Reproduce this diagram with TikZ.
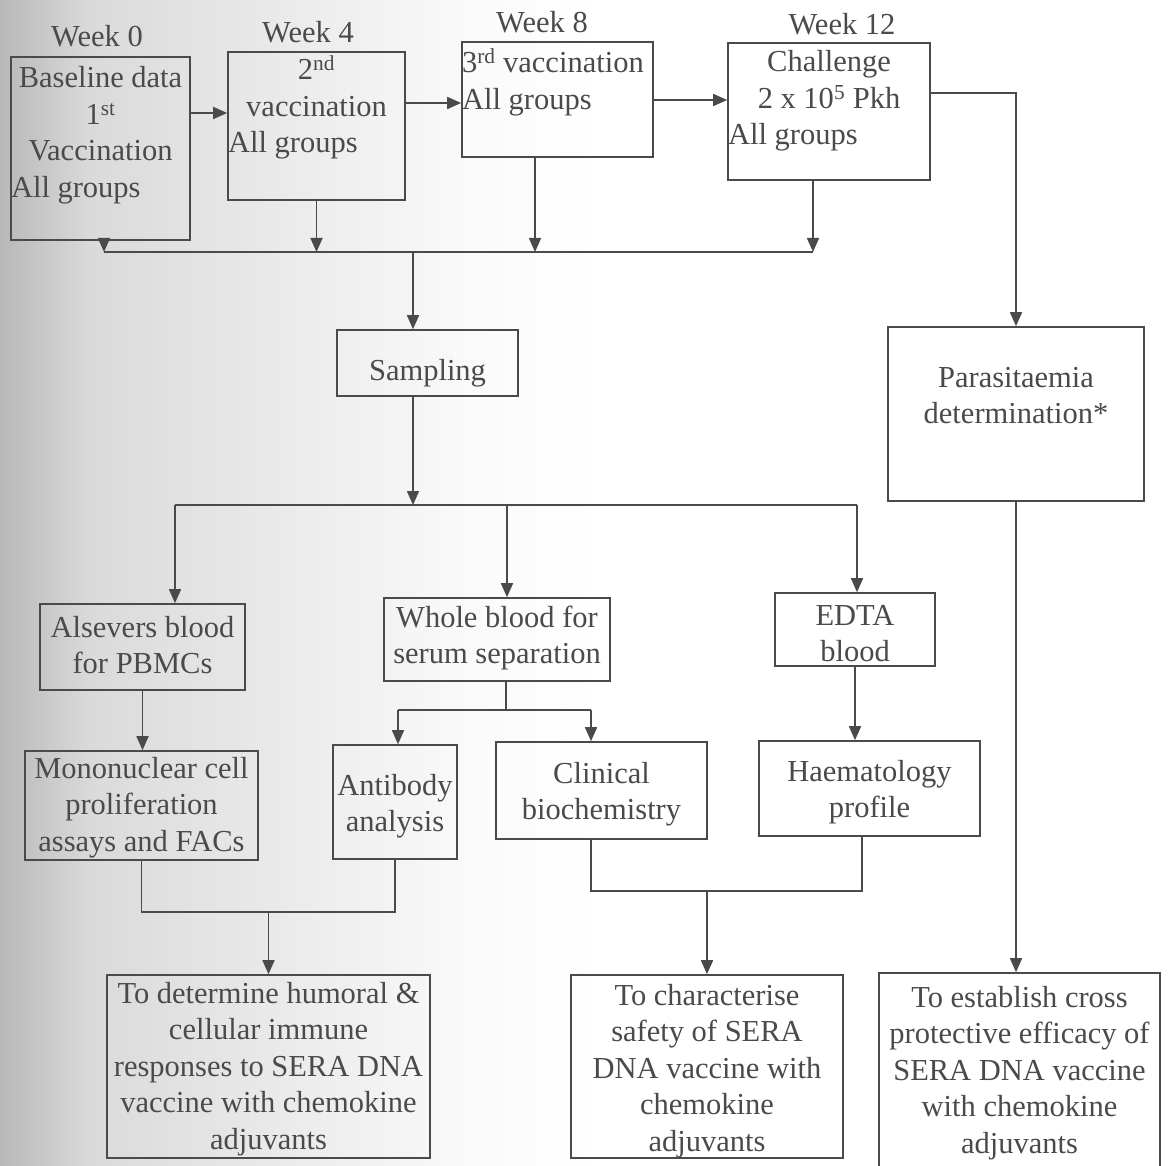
\documentclass[tikz,border=0pt]{standalone}
\usepackage{fontspec}
\setmainfont{Liberation Serif}
\usetikzlibrary{arrows.meta}
\definecolor{ink}{HTML}{4A4A4A}
\definecolor{gA}{RGB}{184,184,184}
\definecolor{gB}{RGB}{218,218,218}
\definecolor{gC}{RGB}{250,250,250}
% width, height, first baseline, content
\newcommand{\bxt}[4]{\parbox[c][#2pt][t]{#1pt}{\rule{0pt}{#3pt}#4}}
\begin{document}
\begin{tikzpicture}[x=1pt,y=-1pt,
  every node/.style={font=\fontsize{30.5}{36.5}\selectfont, text=ink},
  box/.style={draw=ink, line width=1.6pt, inner sep=0pt},
  wk/.style={inner sep=0pt, anchor=base},
  conn/.style={draw=ink, line width=1.6pt},
  arr/.style={conn, -{Triangle[length=14pt,width=12pt]}}]
\clip (0,0) rectangle (1170,1166);
\fill[white] (0,0) rectangle (1170,1166);
\shade[left color=gA, right color=gB] (0,0) rectangle (90,1166);
\shade[left color=gB, right color=gC] (90,0) rectangle (470,1166);
\shade[left color=gC, right color=white] (470,0) rectangle (600,1166);

% week labels
\node[wk] (w0) at (97,47) {Week 0};
\node[wk] (w4) at (308,43) {Week 4};
\node[wk] (w8) at (542,33) {Week 8};
\node[wk] (w12) at (842,35) {Week 12};

% top row
\node[box] (b1) at (100.5,148.5) {\bxt{179}{183}{31}{\centering Baseline data\\ 1\textsuperscript{st}\\ Vaccination\par\raggedright All groups}};
\node[box] (b2) at (316.5,126) {\bxt{177}{148}{28}{\centering 2\textsuperscript{nd}\\ vaccination\par\raggedright All groups}};
\node[box] (b3) at (557.5,99.5) {\bxt{191}{115}{31}{\raggedright 3\textsuperscript{rd} vaccination\\ All groups}};
\node[box] (b4) at (829,111.5) {\bxt{202}{137}{29}{\centering Challenge\\ 2 x 10\textsuperscript{5} Pkh\par\raggedright All groups}};

\node[box] (samp) at (427.5,363) {\bxt{181}{66}{50}{\centering Sampling}};
\node[box] (par) at (1016,414) {\bxt{256}{174}{60}{\centering Parasitaemia\\ determination*}};

\node[box] (als) at (142.5,647) {\bxt{205}{86}{33}{\centering Alsevers blood\\ for PBMCs}};
\node[box] (whole) at (497,639.5) {\bxt{226}{83}{29}{\centering Whole blood for\\ serum separation}};
\node[box] (edta) at (855,629.5) {\bxt{160}{73}{32}{\centering EDTA\\ blood}};

\node[box] (mono) at (141.5,805.5) {\bxt{233}{109}{27}{\centering Mononuclear cell\\ proliferation\\ assays and FACs}};
\node[box] (anti) at (395,802) {\bxt{124}{114}{50}{\centering Antibody\\ analysis}};
\node[box] (clin) at (601.5,790.5) {\bxt{211}{97}{41}{\centering Clinical\\ biochemistry}};
\node[box] (haem) at (869.5,788.5) {\bxt{221}{95}{40}{\centering Haematology\\ profile}};

\node[box] (det) at (268.5,1066.5) {\bxt{323}{183}{28}{\centering To determine humoral \&\\ cellular immune\\ responses to SERA DNA\\ vaccine with chemokine\\ adjuvants}};
\node[box] (char) at (707,1066.5) {\bxt{272}{183}{30}{\centering To characterise\\ safety of SERA\\ DNA vaccine with\\ chemokine\\ adjuvants}};
\node[box] (est) at (1019.5,1074) {\bxt{281}{202}{34}{\centering To establish cross\\ protective efficacy of\\ SERA DNA vaccine\\ with chemokine\\ adjuvants}};

% horizontal arrows top row
\draw[arr] (b1.east |- 0,113) -- (b2.west |- 0,113);
\draw[arr] (b2.east |- 0,103) -- (b3.west |- 0,103);
\draw[arr] (b3.east |- 0,100) -- (b4.west |- 0,100);
\draw[arr] (b4.east |- 0,93) -| (par.north);

% first bus
\coordinate (busL) at (104,252);
\coordinate (busR) at (813,252);
\coordinate (t3) at (535,252);
\coordinate (s1) at (413,252);
\draw[conn] (busL) -- (busR);
\draw[arr] (b1.south -| busL) -- (busL);
\draw[arr] (b2.south) -- (b2.south |- busL);
\draw[arr] (b3.south -| t3) -- (t3);
\draw[arr] (b4.south -| busR) -- (busR);
\draw[arr] (s1) -- (s1 |- samp.north);

% second bus
\coordinate (s2) at (413,505);
\coordinate (bus2L) at (175,505);
\coordinate (bus2R) at (857,505);
\coordinate (t5) at (507,505);
\draw[arr] (s1 |- samp.south) -- (s2);
\draw[conn] (bus2L) -- (bus2R);
\draw[arr] (bus2L) -- (bus2L |- als.north);
\draw[arr] (t5) -- (t5 |- whole.north);
\draw[arr] (bus2R) -- (bus2R |- edta.north);

% middle
\draw[arr] (als.south) -- (als.south |- mono.north);
\coordinate (wj) at (506,710);
\coordinate (wL) at (398,710);
\coordinate (wR) at (591,710);
\draw[conn] (whole.south -| wj) -- (wj);
\draw[conn] (wL) -- (wR);
\draw[arr] (wL) -- (wL |- anti.north);
\draw[arr] (wR) -- (wR |- clin.north);
\draw[arr] (edta.south) -- (edta.south |- haem.north);

% lower joins
\coordinate (j1) at (141,912);
\draw[conn] (mono.south) -- (mono.south |- j1) -- (anti.south |- j1) -- (anti.south);
\draw[arr] (det.north |- j1) -- (det.north);
\coordinate (j2L) at (591,891);
\coordinate (j2R) at (862,891);
\draw[conn] (j2L |- clin.south) -- (j2L) -- (j2R) -- (j2R |- haem.south);
\draw[arr] (char.north |- j2L) -- (char.north);
\draw[arr] (par.south) -- (par.south |- est.north);
\end{tikzpicture}
\end{document}
